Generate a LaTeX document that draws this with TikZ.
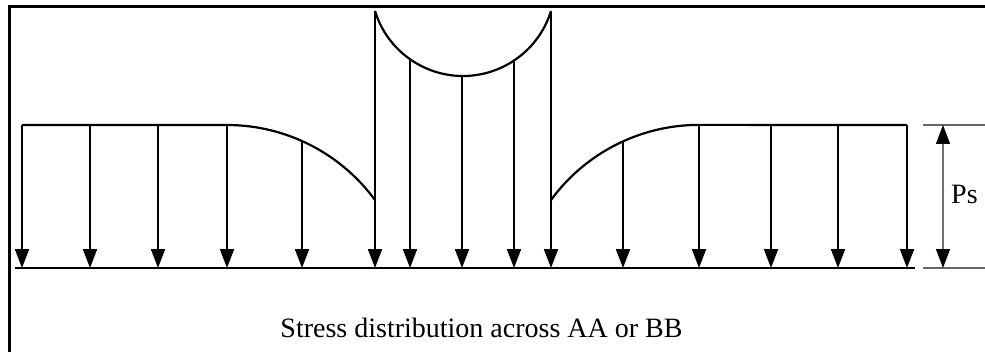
\documentclass[tikz,border=0pt]{standalone}
\usepackage{fontspec}
\setmainfont{Liberation Serif}
\usetikzlibrary{arrows.meta}
\begin{document}
\begin{tikzpicture}[x=1pt,y=1pt,
  mainline/.style={line width=2.2pt,black},
  load/.style={line width=2pt,black,-{Triangle[length=19pt,width=14pt]}},
  dimline/.style={line width=1.3pt,black!55,{Triangle[length=19pt,width=14pt,black]}-{Triangle[length=19pt,width=14pt,black]}},
  extline/.style={line width=1.3pt,black!60},
  lbl/.style={font=\fontsize{28}{32}\selectfont,inner sep=0pt}]
\useasboundingbox (0,0) rectangle (985,351);
% frame (partially visible)
\coordinate (fbl) at (9,-5);
\coordinate (ftl) at (9,344);
\coordinate (ftr) at (990,344);
\draw[line width=3pt] (fbl) -- (ftl) -- (ftr);
% base line
\coordinate (b0) at (15,83);
\coordinate (b1) at (915,83);
\draw[mainline] (b0) -- (b1);
% load profile outline
\coordinate (p0) at (22,226);
\coordinate (p1) at (227,226);
\coordinate (p2) at (375,151);
\coordinate (m0) at (375,340);
\coordinate (m1) at (551,340);
\coordinate (q2) at (551,151);
\coordinate (q1) at (699,226);
\coordinate (q0) at (907,226);
\draw[mainline] (p0) -- (p1) arc[start angle=90,end angle=36.2,radius=183.5];
\draw[mainline] (m0) arc[start angle=197.1,end angle=342.9,radius=92.07];
\draw[mainline] (q2) arc[start angle=143.8,end angle=90,radius=183.5] -- (q0);
% load arrows
\foreach \x/\y [count=\i] in {22/226,90/226,158/226,227/226,302/210,375/340,410/291.8,462/275,514/290.4,551/340,623/209.5,699/226,771/226,838/226,907/226}{
  \coordinate (t\i) at (\x,\y);
  \coordinate (e\i) at (\x,83);
  \draw[load] (t\i) -- (e\i);
}
% dimension
\coordinate (d0) at (923,226);
\coordinate (d1) at (985,226);
\coordinate (d2) at (923,83);
\coordinate (d3) at (985,83);
\draw[extline] (d0) -- (d1);
\draw[extline] (d2) -- (d3);
\coordinate (da) at (943,226);
\coordinate (db) at (943,83);
\draw[dimline] (db) -- (da);
\node[lbl,anchor=west] (ps) at (951,157) {Ps};
\node[lbl,anchor=base] (cap) at (481.5,14) {Stress distribution across AA or BB};
\end{tikzpicture}
\end{document}
